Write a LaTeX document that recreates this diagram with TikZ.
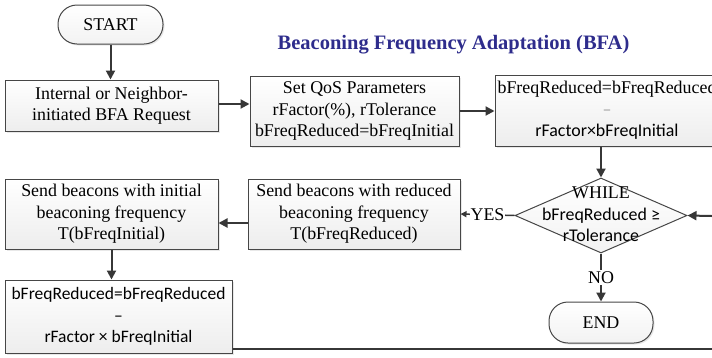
\documentclass[tikz,border=0pt]{standalone}
\usepackage{fontspec}
\setmainfont{Liberation Serif}
\newfontfamily\calfont{Carlito}
\usetikzlibrary{arrows.meta,shapes.geometric,shadows,calc}
\definecolor{titleblue}{RGB}{46,44,140}
\definecolor{edgegray}{RGB}{70,70,70}
\definecolor{conngray}{RGB}{55,55,55}
\begin{document}
\begin{tikzpicture}[x=1pt,y=-1pt,
  every node/.style={font=\fontsize{17.9pt}{21.5pt}\selectfont},
  procbox/.style={draw=edgegray, line width=1pt, top color=white, bottom color=gray!14,
    drop shadow={opacity=0.18,shadow xshift=1.5pt,shadow yshift=-1.5pt},
    align=center, inner sep=0pt},
  termbox/.style={draw=edgegray, line width=1pt, top color=white, bottom color=gray!10,
    rounded corners=19pt, inner sep=0pt,
    drop shadow={opacity=0.18,shadow xshift=1.5pt,shadow yshift=-1.5pt}},
  conn/.style={draw=conngray, line width=2pt, -{Triangle[length=9pt,width=9pt]}},
  thinconn/.style={draw=conngray, line width=1.5pt, -{Triangle[length=6pt,width=6pt]}},
  plainconn/.style={draw=conngray, line width=2pt},
]
\useasboundingbox (0,0) rectangle (712,357);
\clip (0,0) rectangle (712,357);

% title
\node[font=\fontsize{20.5pt}{24pt}\selectfont\bfseries, text=titleblue] (title) at (453.5,45) {Beaconing Frequency Adaptation (BFA)};

% terminals
\node[termbox, minimum width=105pt, minimum height=39pt] (start) at (110.5,24.5) {START};
\node[termbox, minimum width=104pt, minimum height=41pt] (end) at (601,322.5) {END};

% process boxes
\node[procbox, minimum width=213pt, minimum height=51pt] (req) at (111.5,105.5)
  {Internal or Neighbor-\\initiated BFA Request};
\node[procbox, minimum width=209pt, minimum height=70pt] (qos) at (354.5,111)
  {Set QoS Parameters\\rFactor(\%), rTolerance\\bFreqReduced=bFreqInitial};
\node[procbox, minimum width=224pt, minimum height=71pt] (upd) at (607,110.5)
  {bFreqReduced=bFreqReduced\\{\calfont\textcolor{gray!70}{–}}\\{\calfont rFactor×bFreqInitial}};
\node[procbox, minimum width=212pt, minimum height=70pt] (red) at (354,214)
  {Send beacons with reduced\\beaconing frequency\\T(bFreqReduced)};
\node[procbox, minimum width=213pt, minimum height=70pt] (init) at (111.5,214)
  {Send beacons with initial\\beaconing frequency\\T(bFreqInitial)};
\node[procbox, minimum width=227pt, minimum height=73pt, font=\calfont\fontsize{17.5pt}{21.5pt}\selectfont] (low) at (118.5,316.5)
  {bFreqReduced=bFreqReduced\\–\\rFactor × bFreqInitial};

% decision
\node[diamond, draw=edgegray, line width=1pt, top color=white, bottom color=gray!10,
  minimum width=172pt, minimum height=75pt, inner sep=0pt] (dia) at (601,215.5) {};
\node[align=center, inner sep=0pt] (diatext) at (601,214.5)
  {WHILE\\{\calfont bFreqReduced ≥}\\{\calfont rTolerance}};

% free ends
\coordinate (rin) at (712,216);
\coordinate (lowout) at (712,349);

% connectors
\draw[conn] (start.south) -- (start.south |- req.north);
\draw[conn] ([yshift=1.5pt]req.east) -- ([yshift=1.5pt]req.east -| qos.west);
\draw[conn] (qos.east) -- (qos.east -| upd.west);
\draw[conn] (upd.south -| dia.north) -- (dia.north);
\draw[thinconn] (dia.west) -- (red.east) node[midway, fill=white, inner sep=1pt] (yes) {YES};
\draw[conn] ([yshift=-9pt]red.west) -- ([yshift=-9pt]red.west -| init.east);
\draw[conn] (init.south) -- (init.south |- low.north);
\draw[conn] (dia.south) -- (end.north) node[midway, fill=white, inner sep=1pt] (no) {NO};
\draw[plainconn] (low.east |- lowout) -- (lowout);
\draw[conn] (rin) -- (dia.east);
\end{tikzpicture}
\end{document}
